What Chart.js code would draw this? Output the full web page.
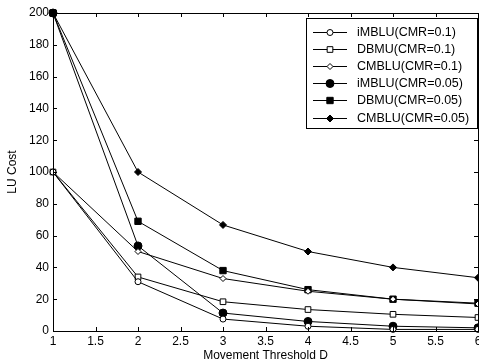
<!DOCTYPE html>
<html>
<head>
<meta charset="utf-8">
<script src="https://cdn.jsdelivr.net/npm/chart.js@4"></script>
<style>
  html, body { margin: 0; padding: 0; background: #fff; overflow: hidden; }
  #wrap { width: 479px; height: 364px; overflow: hidden; }
</style>
</head>
<body>
<div id="wrap"><canvas id="lineChart" width="490" height="364"></canvas></div>
<script>
// x values (movement threshold D)
const thresholds = [1, 2, 3, 4, 5, 6];

// series values
const imbluCmr01  = [100, 31, 7.5, 3, 1, 1];
const dbmuCmr01   = [100, 34, 18.4, 13.5, 10.5, 8.5];
const cmbluCmr01  = [100, 50, 33, 25, 20, 17];
const imbluCmr005 = [200, 53.5, 11.3, 6, 3, 2];
const dbmuCmr005  = [200, 69, 38, 26, 20, 17.5];
const cmbluCmr005 = [200, 100, 66.7, 50, 40, 33.5];

const seriesNames = ['iMBLU(CMR=0.1)', 'DBMU(CMR=0.1)', 'CMBLU(CMR=0.1)',
                     'iMBLU(CMR=0.05)', 'DBMU(CMR=0.05)', 'CMBLU(CMR=0.05)'];

const yTicks = [0, 20, 40, 60, 80, 100, 120, 140, 160, 180, 200];
const xTicks = [1, 1.5, 2, 2.5, 3, 3.5, 4, 4.5, 5, 5.5, 6];

function toPoints(values) {
    return values.map((v, i) => ({x: thresholds[i], y: v}));
}

// marker look for every series
const markers = [
    {style: 'circle',  radius: 3,   fill: '#fff'},
    {style: 'rect',    radius: 4,   fill: '#fff'},
    {style: 'rectRot', radius: 3,   fill: '#fff'},
    {style: 'circle',  radius: 4,   fill: '#000'},
    {style: 'rect',    radius: 4.5, fill: '#000'},
    {style: 'rectRot', radius: 3.5, fill: '#000'}
];

const allValues = [imbluCmr01, dbmuCmr01, cmbluCmr01, imbluCmr005, dbmuCmr005, cmbluCmr005];

const datasets = allValues.map((vals, i) => ({
    label: seriesNames[i],
    data: toPoints(vals),
    borderColor: '#000',
    borderWidth: 1,
    backgroundColor: markers[i].fill,
    pointStyle: markers[i].style,
    pointRadius: markers[i].radius,
    pointBorderWidth: 1,
    pointBorderColor: '#000',
    pointBackgroundColor: markers[i].fill,
    fill: false,
    tension: 0,
    clip: false
}));

// box around the plot with inward ticks, matlab style
const frameTicks = {
    id: 'frameTicks',
    afterDatasetsDraw(chart) {
        const ctx = chart.ctx;
        const a = chart.chartArea;
        const xs = chart.scales.x, ys = chart.scales.y;
        const len = 4;
        ctx.save();
        ctx.strokeStyle = '#000';
        ctx.lineWidth = 1;
        ctx.beginPath();
        xTicks.forEach(t => {
            const px = Math.round(xs.getPixelForValue(t)) + 0.5;
            ctx.moveTo(px, a.bottom); ctx.lineTo(px, a.bottom - len);
            ctx.moveTo(px, a.top);    ctx.lineTo(px, a.top + len);
        });
        yTicks.forEach(t => {
            const py = Math.round(ys.getPixelForValue(t)) + 0.5;
            ctx.moveTo(a.left, py);  ctx.lineTo(a.left + len, py);
            ctx.moveTo(a.right, py); ctx.lineTo(a.right - len, py);
        });
        ctx.stroke();
        ctx.strokeRect(Math.round(a.left) + 0.5, Math.round(a.top) + 0.5,
                       Math.round(a.right - a.left), Math.round(a.bottom - a.top));
        ctx.restore();
    }
};

// legend box in the upper right corner
const boxLegend = {
    id: 'boxLegend',
    afterDraw(chart) {
        const ctx = chart.ctx;
        const x0 = 306, y0 = 18, w = 171, h = 110;
        ctx.save();
        ctx.fillStyle = '#fff';
        ctx.fillRect(x0, y0, w, h);
        ctx.strokeStyle = '#000';
        ctx.lineWidth = 1;
        ctx.strokeRect(x0 + 0.5, y0 + 0.5, w, h);
        ctx.font = '12.5px "Liberation Sans", Arial, sans-serif';
        ctx.textBaseline = 'middle';
        chart.data.datasets.forEach((ds, i) => {
            const y = Math.round(y0 + 14 + i * 17.1) + 0.5;
            ctx.beginPath();
            ctx.moveTo(313, y); ctx.lineTo(347, y);
            ctx.stroke();
            ctx.fillStyle = ds.pointBackgroundColor;
            Chart.helpers.drawPoint(ctx, {pointStyle: ds.pointStyle, radius: ds.pointRadius,
                                          borderWidth: 1, rotation: 0}, 330, y);
            ctx.fillStyle = '#000';
            ctx.fillText(ds.label, 357, y);
        });
        ctx.restore();
    }
};

Chart.defaults.font.family = '"Liberation Sans", Arial, sans-serif';
Chart.defaults.font.size = 12;
Chart.defaults.color = '#000';

new Chart(document.getElementById('lineChart'), {
    type: 'line',
    data: {datasets: datasets},
    options: {
        responsive: false,
        animation: false,
        layout: {padding: {top: 13, right: 12, left: 0, bottom: 0}},
        scales: {
            x: {
                type: 'linear',
                min: 1,
                max: 6,
                afterBuildTicks: scale => { scale.ticks = xTicks.map(v => ({value: v})); },
                afterFit: scale => { scale.height = 33; },
                ticks: {padding: 3, maxRotation: 0, autoSkip: false, callback: v => String(v)},
                grid: {display: false, drawTicks: false},
                border: {display: false},
                title: {display: true, text: 'Movement Threshold D', padding: {top: 0, bottom: 1}}
            },
            y: {
                min: 0,
                max: 200,
                afterBuildTicks: scale => { scale.ticks = yTicks.map(v => ({value: v})); },
                afterFit: scale => { scale.width = 53; },
                ticks: {padding: 4},
                grid: {display: false, drawTicks: false},
                border: {display: false},
                title: {display: true, text: 'LU Cost', padding: {top: 5, bottom: 0}}
            }
        },
        plugins: {
            legend: {display: false},
            tooltip: {enabled: false}
        }
    },
    plugins: [frameTicks, boxLegend]
});
</script>
</body>
</html>
